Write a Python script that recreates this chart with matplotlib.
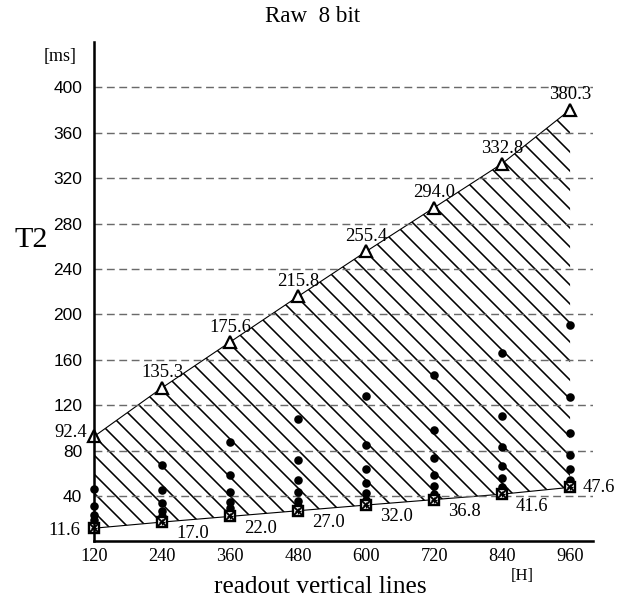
import numpy as np
import matplotlib
matplotlib.use('Agg')
import matplotlib.pyplot as plt

plt.rcParams['font.family'] = 'serif'
plt.rcParams['font.serif'] = ['Liberation Serif', 'DejaVu Serif']
plt.rcParams['hatch.linewidth'] = 1.0

# readout vertical lines [H]
h_lines = [120, 240, 360, 480, 600, 720, 840, 960]
# T2 limits [ms]
t2_upper = [92.4, 135.3, 175.6, 215.8, 255.4, 294.0, 332.8, 380.3]
t2_lower = [11.6, 17.0, 22.0, 27.0, 32.0, 36.8, 41.6, 47.6]
# intermediate T2 points per column
t2_mid = [
    [46.2, 30.8, 23.1, 18.5, 15.4, 13.2],
    [67.7, 45.1, 33.8, 27.1, 22.6, 19.3],
    [87.8, 58.5, 43.9, 35.1, 29.3, 25.1],
    [107.9, 71.9, 54.0, 43.2, 36.0, 30.8],
    [127.7, 85.1, 63.9, 51.1, 42.6, 36.5],
    [147.0, 98.0, 73.5, 58.8, 49.0, 42.0],
    [166.4, 110.9, 83.2, 66.6, 55.5, 47.5],
    [190.2, 126.8, 95.1, 76.1, 63.4, 54.3],
]
y_ticks = [40, 80, 120, 160, 200, 240, 280, 320, 360, 400]

DPI = 114
fig = plt.figure(figsize=(619 / DPI, 603 / DPI), dpi=DPI)
ax = fig.add_axes([0.1519, 0.1022, 0.8057, 0.8282])

# hatched range
ax.fill_between(h_lines, t2_lower, t2_upper, facecolor='none', edgecolor='black',
                linewidth=0, hatch='\\\\', zorder=1)
ax.plot(h_lines, t2_upper, color='black', lw=0.7, zorder=2)
ax.plot(h_lines, t2_lower, color='black', lw=0.7, zorder=2)

# dots
for h, vals in zip(h_lines, t2_mid):
    ax.plot([h] * len(vals), vals, 'o', color='black', ms=4.4, zorder=4, clip_on=False)

ax.plot(h_lines, t2_upper, '^', mfc='white', mec='black', ms=7, mew=1.4, zorder=5, clip_on=False)
ax.plot(h_lines, t2_lower, 's', mfc='white', mec='black', ms=6.2, mew=1.5, zorder=5, clip_on=False)
ax.plot(h_lines, t2_lower, 'x', color='black', ms=5, mew=1.2, zorder=6, clip_on=False)
ax.plot(h_lines, t2_lower, '+', color='black', ms=4, mew=0.8, zorder=6, clip_on=False)

# value labels
for i, (h, v) in enumerate(zip(h_lines, t2_upper)):
    if i == 0:
        ax.annotate(f'{v:.1f}', (h, v), xytext=(-4.5, 2.5), textcoords='offset points',
                    ha='right', va='center', fontsize=11.8)
    else:
        ax.annotate(f'{v:.1f}', (h, v), xytext=(0, 9.5), textcoords='offset points',
                    ha='center', va='center', fontsize=11.8)

for i, (h, v) in enumerate(zip(h_lines, t2_lower)):
    if i == 0:
        ax.annotate(f'{v:.1f}', (h, v), xytext=(-8.8, -1.5), textcoords='offset points',
                    ha='right', va='center', fontsize=11.8)
    elif i == len(h_lines) - 1:
        ax.annotate(f'{v:.1f}', (h, v), xytext=(8.2, 0), textcoords='offset points',
                    ha='left', va='center', fontsize=11.8)
    else:
        ax.annotate(f'{v:.1f}', (h, v), xytext=(8.8, -7.5), textcoords='offset points',
                    ha='left', va='center', fontsize=11.8)

ax.set_xlim(120, 1000)
ax.set_ylim(0, 440)
ax.set_xticks(h_lines)
ax.set_yticks(y_ticks)
ax.grid(axis='y', linestyle=(0, (5.5, 3.2)), color='#6a6a6a', lw=0.9, zorder=3)
ax.set_axisbelow(False)

for s in ['top', 'right']:
    ax.spines[s].set_visible(False)
for s in ['left', 'bottom']:
    ax.spines[s].set_linewidth(1.6)
    ax.spines[s].set_zorder(7)

ax.tick_params(axis='both', length=0)
ax.tick_params(axis='y', pad=7.5, labelsize=11)
ax.tick_params(axis='x', pad=4, labelsize=11.6)
for lab in ax.get_yticklabels():
    lab.set_fontfamily(['Liberation Sans', 'DejaVu Sans'])

fig.text(313 / 619, 1 - 17 / 603, 'Raw  8 bit', ha='center', va='center', fontsize=14.5)
fig.text(60 / 619, 1 - 56 / 603, '[ms]', ha='center', va='center', fontsize=11.4)
fig.text(31 / 619, 1 - 240 / 603, 'T2', ha='center', va='center', fontsize=19)
fig.text(320 / 619, 1 - 593 / 603, 'readout vertical lines', ha='center', va='baseline', fontsize=16)
fig.text(522 / 619, 1 - 576 / 603, '[H]', ha='center', va='center', fontsize=10.5)

fig.savefig('out.png', dpi=DPI)
